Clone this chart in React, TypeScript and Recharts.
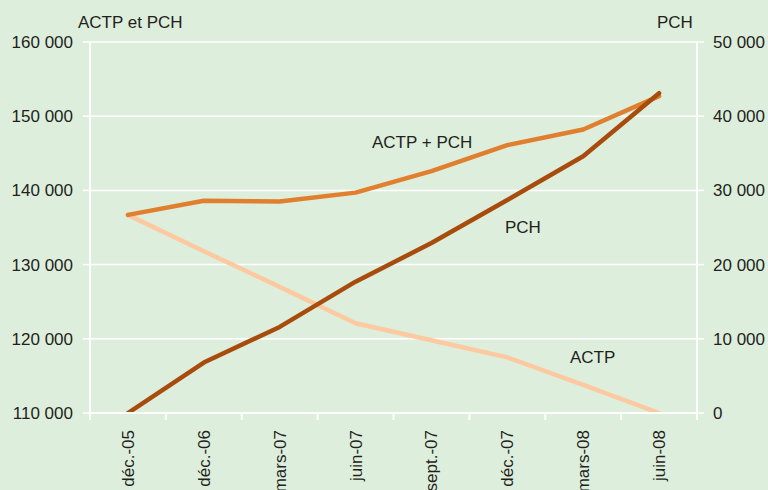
import React from 'react';
import { ComposedChart, Line, XAxis, YAxis, CartesianGrid } from 'recharts';

const categories = ['déc.-05', 'déc.-06', 'mars-07', 'juin-07', 'sept.-07', 'déc.-07', 'mars-08', 'juin-08'];
const actpPlusPch = [136700, 138600, 138500, 139700, 142600, 146100, 148200, 152700];
const actp = [136700, 131800, 127000, 122100, 119800, 117500, 113800, 110000];
const pch = [0, 6800, 11600, 17700, 22900, 28700, 34600, 43100];
const leftTicks = [110000, 120000, 130000, 140000, 150000, 160000];
const rightTicks = [0, 10000, 20000, 30000, 40000, 50000];
const xTicks = [0, 0.5, 1, 1.5, 2, 2.5, 3, 3.5, 4, 4.5, 5, 5.5, 6, 6.5, 7, 7.5, 8];

const data = categories.map((c, i) => ({
  cat: c,
  idx: i + 0.5,
  total: actpPlusPch[i],
  actp: actp[i],
  pch: pch[i],
}));

const BG = '#deeedc';
const TXT = '#231f20';
const FONT = '"Liberation Sans", Arial, Helvetica, sans-serif';

const fmt = (v: number) => String(v).replace(/\B(?=(\d{3})+(?!\d))/g, ' ');

function XTick(props: any) {
  const { x, y, payload } = props;
  const v = payload.value as number;
  if (Number.isInteger(v)) {
    return <line x1={x} x2={x} y1={y - 7} y2={y} stroke="#fff" strokeWidth={2} />;
  }
  const label = categories[Math.round(v - 0.5)];
  return (
    <text
      x={x}
      y={y + 10}
      transform={`rotate(-90, ${x}, ${y + 10})`}
      textAnchor="end"
      dy="0.35em"
      fontSize={17}
      fill={TXT}
      fontFamily={FONT}
    >
      {label}
    </text>
  );
}

const textStyle: React.CSSProperties = {
  position: 'absolute',
  fontSize: 17,
  lineHeight: '17px',
  color: TXT,
  whiteSpace: 'nowrap',
  fontFamily: FONT,
};

export default function App() {
  return (
    <div style={{ position: 'fixed', left: 0, top: 0, width: 768, height: 490, background: BG, fontFamily: FONT, overflow: 'hidden' }}>
      <ComposedChart width={768} height={490} data={data} margin={{ top: 42, right: 0, bottom: 0, left: 0 }}>
        <CartesianGrid yAxisId="left" vertical={false} stroke="#fff" strokeWidth={1.5} />
        <XAxis
          dataKey="idx"
          type="number"
          domain={[0, 8]}
          ticks={xTicks}
          interval={0}
          tickLine={false}
          tickSize={7}
          tickMargin={0}
          height={77}
          axisLine={{ stroke: '#fff', strokeWidth: 2 }}
          tick={(p: any) => <XTick {...p} />}
        />
        <YAxis
          yAxisId="left"
          orientation="left"
          width={90}
          domain={[110000, 160000]}
          ticks={leftTicks}
          interval={0}
          tickSize={7}
          tickMargin={10}
          tickLine={{ stroke: '#fff', strokeWidth: 1.5 }}
          axisLine={{ stroke: '#fff', strokeWidth: 2 }}
          tick={{ fontSize: 17, fill: TXT, fontFamily: FONT }}
          tickFormatter={fmt}
          allowDataOverflow
        />
        <YAxis
          yAxisId="right"
          orientation="right"
          width={71}
          domain={[0, 50000]}
          ticks={rightTicks}
          interval={0}
          tickSize={7}
          tickMargin={9}
          tickLine={{ stroke: '#fff', strokeWidth: 1.5 }}
          axisLine={{ stroke: '#fff', strokeWidth: 2 }}
          tick={{ fontSize: 17, fill: TXT, fontFamily: FONT }}
          tickFormatter={fmt}
          allowDataOverflow
        />
        <Line yAxisId="left" dataKey="actp" stroke="#fdc9a0" strokeWidth={4.5} dot={false} isAnimationActive={false} strokeLinecap="round" strokeLinejoin="round" />
        <Line yAxisId="left" dataKey="total" stroke="#e07f2e" strokeWidth={4.5} dot={false} isAnimationActive={false} strokeLinecap="round" strokeLinejoin="round" />
        <Line yAxisId="right" dataKey="pch" stroke="#a84c0d" strokeWidth={4.5} dot={false} isAnimationActive={false} strokeLinecap="round" strokeLinejoin="round" />
      </ComposedChart>
      <div style={{ ...textStyle, left: 78, top: 14 }}>ACTP et PCH</div>
      <div style={{ ...textStyle, left: 657, top: 14 }}>PCH</div>
      <div style={{ ...textStyle, left: 372, top: 134 }}>ACTP + PCH</div>
      <div style={{ ...textStyle, left: 505, top: 219 }}>PCH</div>
      <div style={{ ...textStyle, left: 570, top: 349 }}>ACTP</div>
    </div>
  );
}
